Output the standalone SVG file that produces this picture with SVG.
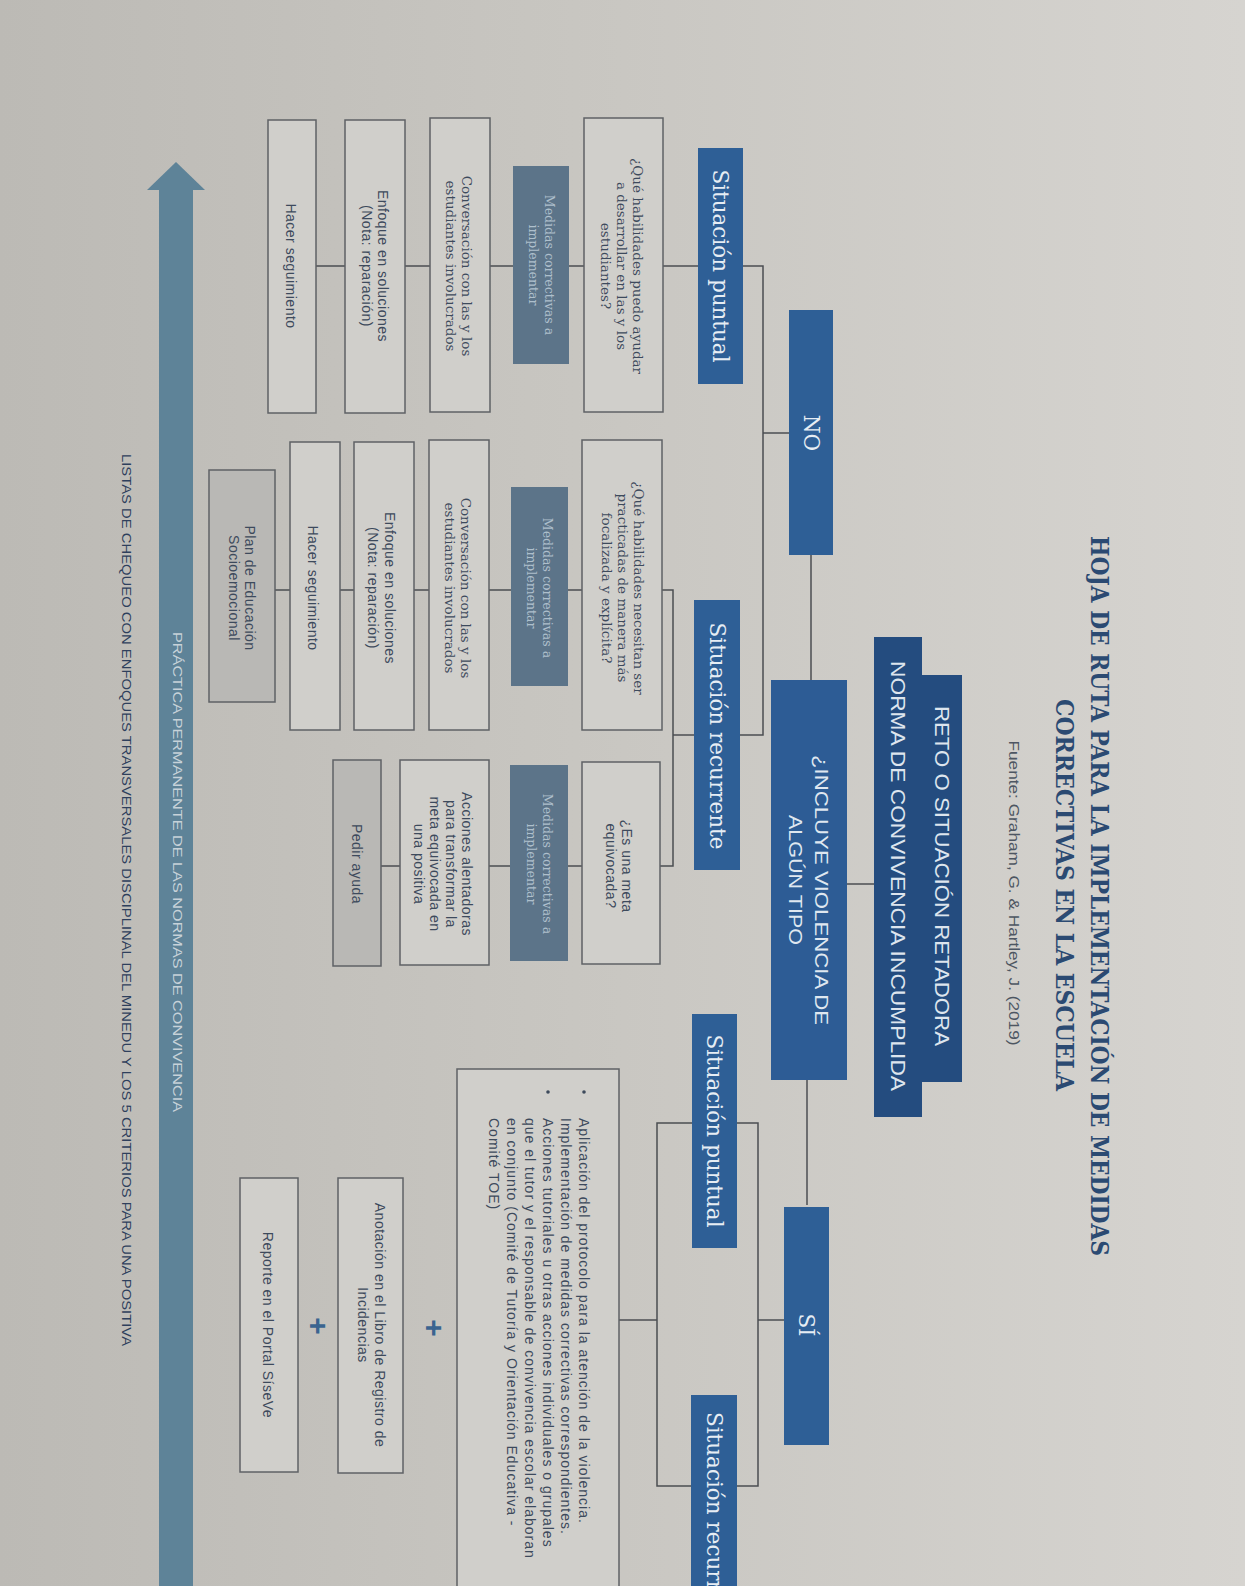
<svg xmlns="http://www.w3.org/2000/svg" width="1245" height="1586" viewBox="0 0 1245 1586">
<defs>
<linearGradient id="paper" x1="0" y1="0" x2="1" y2="0">
<stop offset="0" stop-color="#bcbab5"/>
<stop offset="0.5" stop-color="#c9c7c2"/>
<stop offset="1" stop-color="#d6d4d0"/>
</linearGradient>
<style>
text { text-anchor: middle; dominant-baseline: central; }
.serif { font-family: "DejaVu Serif", "Liberation Serif", serif; }
.sans { font-family: "Liberation Sans", Arial, sans-serif; }
.blue { fill: #2e5f96; }
.lbl { font-size: 21.5px; fill: #e6edf4; }
.box { fill: #d0cfcb; stroke: #5f6266; stroke-width: 1.5; }
.gbox { fill: #b9b8b5; stroke: #5f6266; stroke-width: 1.5; }
.med { fill: #5c7489; }
.medt { font-size: 12.5px; fill: #aebfcc; }
.bt { font-size: 13.5px; fill: #3d4a5c; }
.st { font-size: 14px; letter-spacing: 0.5px; fill: #3d4a5c; }
.big { font-size: 14px; letter-spacing: 1px; fill: #3d4a5c; text-anchor: start; }
.conn { stroke: #4b4e52; stroke-width: 1.5; fill: none; }
.plus { font-family: "Liberation Sans", Arial, sans-serif; font-weight: bold; font-size: 30px; fill: #3a6490; }
</style>
</defs>
<rect x="0" y="0" width="1245" height="1586" fill="url(#paper)"/>

<g id="title">
<text class="serif" font-weight="bold" font-size="25" fill="#2b4a72" textLength="720" lengthAdjust="spacingAndGlyphs" transform="translate(1099,896) rotate(90)">HOJA DE RUTA PARA LA IMPLEMENTACIÓN DE MEDIDAS</text>
<text class="serif" font-weight="bold" font-size="25" fill="#2b4a72" textLength="392" lengthAdjust="spacingAndGlyphs" transform="translate(1064,895) rotate(90)">CORRECTIVAS EN LA ESCUELA</text>
<text class="sans" font-size="15" fill="#4d5662" textLength="305" lengthAdjust="spacingAndGlyphs" transform="translate(1014,893) rotate(90)">Fuente: Graham, G. &amp; Hartley, J. (2019)</text>
</g>

<g id="connectors" class="conn">
<path d="M876,884 H847"/>
<path d="M811,555 V680"/>
<path d="M807,1080 V1205"/>
<path d="M789,433 H763"/>
<path d="M743,266 H763 V735 H740"/>
<path d="M698,266 H663"/>
<path d="M584,266 H569 M513,266 H490 M430,266 H405 M345,266 H316"/>
<path d="M694,735 H673"/>
<path d="M662,590 H673 V866 H660"/>
<path d="M582,590 H568 M511,590 H489 M429,590 H414 M354,590 H340 M290,590 H275"/>
<path d="M582,866 H568 M510,866 H489 M400,866 H381"/>
<path d="M784,1320 H758"/>
<path d="M758,1123 V1486 H657 V1123 Z"/>
<path d="M657,1320 H619"/>
</g>

<g id="n-reto">
<path d="M874,637 H922 V675 H962 V1082 H922 V1117 H874 Z" fill="#244c7f"/>
<text class="sans" font-size="20" fill="#dde5ee" textLength="340" lengthAdjust="spacingAndGlyphs" transform="translate(942,876) rotate(90)">RETO O SITUACIÓN RETADORA</text>
<text class="sans" font-size="20" fill="#dde5ee" textLength="430" lengthAdjust="spacingAndGlyphs" transform="translate(898,876) rotate(90)">NORMA DE CONVIVENCIA INCUMPLIDA</text>
</g>

<g id="n-incluye">
<rect x="771" y="680" width="76" height="400" fill="#2d5c95"/>
<text class="sans" font-size="19" fill="#dfe7f0" textLength="270" lengthAdjust="spacingAndGlyphs" transform="translate(821,890) rotate(90)">¿INCLUYE VIOLENCIA DE</text>
<text class="sans" font-size="19" fill="#dfe7f0" textLength="130" lengthAdjust="spacingAndGlyphs" transform="translate(795,880) rotate(90)">ALGÚN TIPO</text>
</g>

<g id="n-no">
<rect class="blue" x="789" y="310" width="44" height="245"/>
<text class="serif lbl" transform="translate(811,433) rotate(90)">NO</text>
</g>

<g id="n-si">
<rect class="blue" x="784" y="1207" width="45" height="238"/>
<text class="serif lbl" transform="translate(806,1325) rotate(90)">SÍ</text>
</g>

<g id="n-no-puntual">
<rect class="blue" x="698" y="148" width="45" height="236"/>
<text class="serif lbl" transform="translate(720,266) rotate(90)">Situación puntual</text>
</g>

<g id="n-no-recurrente">
<rect class="blue" x="694" y="600" width="46" height="270"/>
<text class="serif lbl" transform="translate(717,736) rotate(90)">Situación recurrente</text>
</g>

<g id="n-q1">
<rect class="box" x="584" y="118" width="79" height="294"/>
<text class="serif bt" transform="translate(638,266) rotate(90)">¿Qué habilidades puedo ayudar</text>
<text class="serif bt" transform="translate(622,266) rotate(90)">a desarrollar en las y los</text>
<text class="serif bt" transform="translate(606,266) rotate(90)">estudiantes?</text>
</g>
<g id="n-m1">
<rect class="med" x="513" y="166" width="56" height="198"/>
<text class="serif medt" transform="translate(549,265) rotate(90)">Medidas correctivas a</text>
<text class="serif medt" transform="translate(533,265) rotate(90)">implementar</text>
</g>
<g id="n-c1">
<rect class="box" x="430" y="118" width="60" height="294"/>
<text class="serif bt" transform="translate(467,266) rotate(90)">Conversación con las y los</text>
<text class="serif bt" transform="translate(451,266) rotate(90)">estudiantes involucrados</text>
</g>
<g id="n-e1">
<rect class="box" x="345" y="120" width="60" height="293"/>
<text class="sans st" transform="translate(383,266) rotate(90)">Enfoque en soluciones</text>
<text class="sans st" transform="translate(367,266) rotate(90)">(Nota: reparación)</text>
</g>
<g id="n-h1">
<rect class="box" x="268" y="120" width="48" height="293"/>
<text class="sans st" transform="translate(291,266) rotate(90)">Hacer seguimiento</text>
</g>

<g id="n-q2">
<rect class="box" x="582" y="440" width="80" height="290"/>
<text class="serif bt" transform="translate(639,588) rotate(90)">¿Qué habilidades necesitan ser</text>
<text class="serif bt" transform="translate(623,588) rotate(90)">practicadas de manera más</text>
<text class="serif bt" transform="translate(607,588) rotate(90)">focalizada y explícita?</text>
</g>
<g id="n-m2">
<rect class="med" x="511" y="487" width="57" height="199"/>
<text class="serif medt" transform="translate(547,588) rotate(90)">Medidas correctivas a</text>
<text class="serif medt" transform="translate(531,588) rotate(90)">implementar</text>
</g>
<g id="n-c2">
<rect class="box" x="429" y="440" width="60" height="290"/>
<text class="serif bt" transform="translate(466,588) rotate(90)">Conversación con las y los</text>
<text class="serif bt" transform="translate(450,588) rotate(90)">estudiantes involucrados</text>
</g>
<g id="n-e2">
<rect class="box" x="354" y="442" width="60" height="288"/>
<text class="sans st" transform="translate(390,588) rotate(90)">Enfoque en soluciones</text>
<text class="sans st" transform="translate(373,588) rotate(90)">(Nota: reparación)</text>
</g>
<g id="n-h2">
<rect class="box" x="290" y="442" width="50" height="288"/>
<text class="sans st" transform="translate(313,588) rotate(90)">Hacer seguimiento</text>
</g>
<g id="n-p2">
<rect class="gbox" x="209" y="470" width="66" height="232"/>
<text class="sans st" transform="translate(250,588) rotate(90)">Plan de Educación</text>
<text class="sans st" transform="translate(234,588) rotate(90)">Socioemocional</text>
</g>

<g id="n-q3">
<rect class="box" x="582" y="762" width="78" height="202"/>
<text class="sans st" transform="translate(627,866) rotate(90)">¿Es una meta</text>
<text class="sans st" transform="translate(611,866) rotate(90)">equivocada?</text>
</g>
<g id="n-m3">
<rect class="med" x="510" y="765" width="58" height="196"/>
<text class="serif medt" transform="translate(547,864) rotate(90)">Medidas correctivas a</text>
<text class="serif medt" transform="translate(531,864) rotate(90)">implementar</text>
</g>
<g id="n-a3">
<rect class="box" x="400" y="760" width="89" height="205"/>
<text class="sans st" transform="translate(467,864) rotate(90)">Acciones alentadoras</text>
<text class="sans st" transform="translate(451,864) rotate(90)">para transformar la</text>
<text class="sans st" transform="translate(435,864) rotate(90)">meta equivocada en</text>
<text class="sans st" transform="translate(419,864) rotate(90)">una positiva</text>
</g>
<g id="n-p3">
<rect class="gbox" x="333" y="760" width="48" height="206"/>
<text class="sans st" transform="translate(357,864) rotate(90)">Pedir ayuda</text>
</g>

<g id="n-si-puntual">
<rect class="blue" x="692" y="1014" width="45" height="234"/>
<text class="serif lbl" transform="translate(714,1131) rotate(90)">Situación puntual</text>
</g>
<g id="n-si-recurrente">
<rect class="blue" x="691" y="1395" width="46" height="205"/>
<text class="serif lbl" style="text-anchor:start" transform="translate(714,1412) rotate(90)">Situación recurrente</text>
</g>

<g id="n-protocolo">
<rect class="box" x="457" y="1069" width="162" height="530"/>
<circle cx="584" cy="1092" r="1.8" fill="#3d4a5c"/>
<circle cx="548" cy="1092" r="1.8" fill="#3d4a5c"/>
<text class="sans big" transform="translate(584,1118) rotate(90)">Aplicación del protocolo para la atención de la violencia.</text>
<text class="sans big" transform="translate(566,1118) rotate(90)">Implementación de medidas correctivas correspondientes.</text>
<text class="sans big" transform="translate(548,1118) rotate(90)">Acciones tutoriales u otras acciones individuales o grupales</text>
<text class="sans big" transform="translate(530,1118) rotate(90)">que el tutor y el responsable de convivencia escolar elaboran</text>
<text class="sans big" transform="translate(512,1118) rotate(90)">en conjunto (Comité de Tutoría y Orientación Educativa -</text>
<text class="sans big" transform="translate(494,1118) rotate(90)">Comité TOE)</text>
</g>

<g id="plus-1"><text class="plus" transform="translate(434,1328) rotate(90)">+</text></g>

<g id="n-anotacion">
<rect class="box" x="338" y="1178" width="65" height="295"/>
<text class="sans st" transform="translate(380,1325) rotate(90)">Anotación en el Libro de Registro de</text>
<text class="sans st" transform="translate(363,1325) rotate(90)">Incidencias</text>
</g>

<g id="plus-2"><text class="plus" transform="translate(318,1326) rotate(90)">+</text></g>

<g id="n-reporte">
<rect class="box" x="240" y="1178" width="58" height="294"/>
<text class="sans st" transform="translate(268,1325) rotate(90)">Reporte en el Portal SíseVe</text>
</g>

<g id="arrow">
<rect x="159" y="188" width="34" height="1400" fill="#5e8398"/>
<polygon points="176,162 147,190 205,190" fill="#5e8398"/>
<text class="sans" font-size="13" fill="#c7d2d9" textLength="480" lengthAdjust="spacingAndGlyphs" transform="translate(177,872) rotate(90)">PRÁCTICA PERMANENTE DE LAS NORMAS DE CONVIVENCIA</text>
</g>

<g id="footer">
<text class="sans" font-size="13" fill="#2e3f5c" textLength="892" lengthAdjust="spacingAndGlyphs" transform="translate(126,900) rotate(90)">LISTAS DE CHEQUEO CON ENFOQUES TRANSVERSALES DISCIPLINAL DEL MINEDU Y LOS 5 CRITERIOS PARA UNA POSITIVA</text>
</g>
</svg>
